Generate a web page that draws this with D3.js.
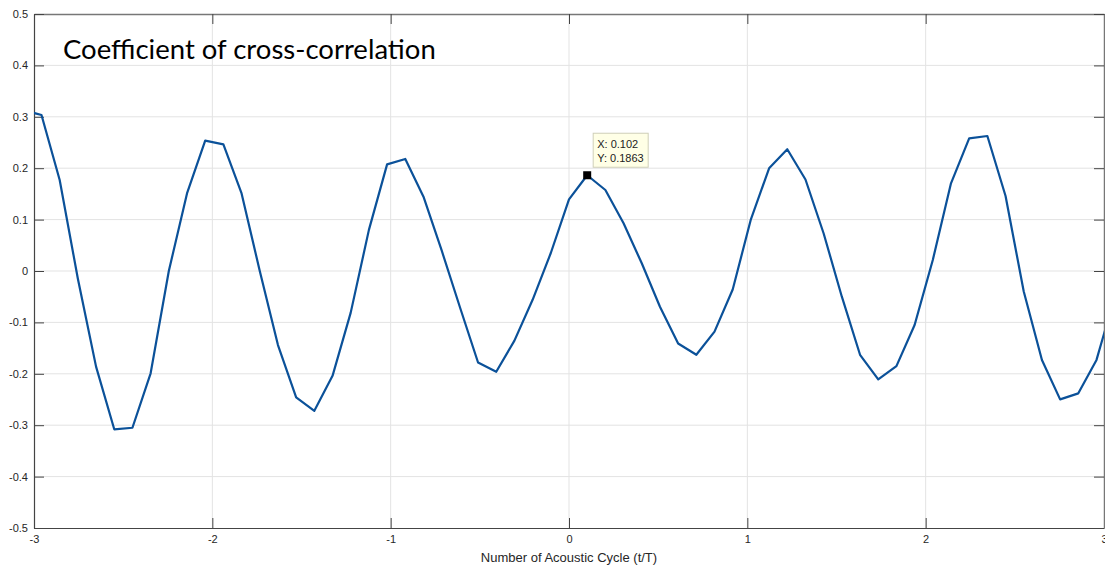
<!DOCTYPE html>
<html>
<head>
<meta charset="utf-8">
<script src="https://cdn.jsdelivr.net/npm/d3@7"></script>
<style>
  body { margin: 0; background: #fff; }
  svg { display: block; }
</style>
</head>
<body>
<div id="main"></div>
<script>
// sample positions (t/T), spacing 0.102
const xValues = [
  -3.06, -2.958, -2.856, -2.754, -2.652, -2.55, -2.448, -2.346, -2.244, -2.142,
  -2.04, -1.938, -1.836, -1.734, -1.632, -1.53, -1.428, -1.326, -1.224, -1.122,
  -1.02, -0.918, -0.816, -0.714, -0.612, -0.51, -0.408, -0.306, -0.204, -0.102,
  0, 0.102, 0.204, 0.306, 0.408, 0.51, 0.612, 0.714, 0.816, 0.918,
  1.02, 1.122, 1.224, 1.326, 1.428, 1.53, 1.632, 1.734, 1.836, 1.938,
  2.04, 2.142, 2.244, 2.346, 2.448, 2.55, 2.652, 2.754, 2.856, 2.958, 3.06
];
// cross-correlation coefficient
const corrValues = [
  0.313, 0.3035, 0.177, -0.015, -0.186, -0.308, -0.305, -0.199, 0.0, 0.151,
  0.2535, 0.2465, 0.151, 0.0, -0.144, -0.246, -0.272, -0.204, -0.081, 0.080,
  0.2075, 0.218, 0.1445, 0.04, -0.07, -0.178, -0.196, -0.1355, -0.056, 0.035,
  0.1395, 0.1863, 0.1576, 0.0928, 0.015, -0.0695, -0.141, -0.163, -0.118, -0.036,
  0.1006, 0.1998, 0.2368, 0.178, 0.073, -0.05, -0.163, -0.2107, -0.185, -0.105,
  0.0214, 0.1706, 0.258, 0.2626, 0.146, -0.04, -0.173, -0.2497, -0.238, -0.173, -0.05
];
const xTicks = [-3, -2, -1, 0, 1, 2, 3];
const yTicks = [-0.5, -0.4, -0.3, -0.2, -0.1, 0, 0.1, 0.2, 0.3, 0.4, 0.5];
const xTickLabels = ['-3', '-2', '-1', '0', '1', '2', '3'];
const yTickLabels = ['-0.5', '-0.4', '-0.3', '-0.2', '-0.1', '0', '0.1', '0.2', '0.3', '0.4', '0.5'];
const tipIndex = 31;

const W = 1105, H = 568;
const margin = { left: 34, right: 1, top: 14, bottom: 40 };
const iw = W - margin.left - margin.right,
      ih = H - margin.top - margin.bottom;

const svg = d3.select('#main').append('svg')
  .attr('width', W).attr('height', H);

const x = d3.scaleLinear().domain([-3, 3]).range([0, iw]);
const y = d3.scaleLinear().domain([-0.5, 0.5]).range([ih, 0]);

const g = svg.append('g').attr('transform', `translate(${margin.left},${margin.top})`);

svg.append('defs').append('clipPath').attr('id', 'plotClip')
  .append('rect').attr('width', iw).attr('height', ih);

// grid
g.append('g').selectAll('line.vg')
  .data(xTicks.slice(1, -1))
  .enter().append('line')
    .attr('x1', d => x(d)).attr('x2', d => x(d))
    .attr('y1', 0).attr('y2', ih)
    .attr('stroke', '#e3e3e3').attr('stroke-width', 1);
g.append('g').selectAll('line.hg')
  .data(yTicks.slice(1, -1))
  .enter().append('line')
    .attr('y1', d => y(d)).attr('y2', d => y(d))
    .attr('x1', 0).attr('x2', iw)
    .attr('stroke', '#e3e3e3').attr('stroke-width', 1);

// axes, ticks pointing inward
const axisFont = '"Liberation Sans", Arial, sans-serif';

const xAxis = g.append('g').attr('transform', `translate(0,${ih})`)
  .call(d3.axisBottom(x).tickValues(xTicks).tickSizeInner(-10).tickSizeOuter(0).tickPadding(7)
    .tickFormat((d, i) => xTickLabels[i]));
const xTop = g.append('g')
  .call(d3.axisTop(x).tickValues(xTicks).tickSizeInner(-10).tickSizeOuter(0).tickFormat(''));
const yAxis = g.append('g')
  .call(d3.axisLeft(y).tickValues(yTicks).tickSizeInner(-10).tickSizeOuter(0).tickPadding(6)
    .tickFormat((d, i) => yTickLabels[i]));
const yRight = g.append('g').attr('transform', `translate(${iw},0)`)
  .call(d3.axisRight(y).tickValues(yTicks).tickSizeInner(-10).tickSizeOuter(0).tickFormat(''));

[xAxis, xTop, yAxis, yRight].forEach(a => {
  a.select('.domain').attr('stroke', '#444').attr('stroke-width', 1.2);
  a.selectAll('.tick line').attr('stroke', '#444');
  a.selectAll('.tick text')
    .attr('fill', '#262626')
    .style('font-family', axisFont)
    .style('font-size', '11px');
});
xTop.select('.domain').attr('stroke', '#777').attr('stroke-width', 1.5);
yRight.select('.domain').attr('stroke', '#777').attr('stroke-width', 1.5);

// series line
const pts = xValues.map((d, i) => [d, corrValues[i]]);
g.append('path')
  .datum(pts)
  .attr('clip-path', 'url(#plotClip)')
  .attr('fill', 'none')
  .attr('stroke', '#0b5199')
  .attr('stroke-width', 2.2)
  .attr('stroke-linejoin', 'round')
  .attr('d', d3.line().x(d => x(d[0])).y(d => y(d[1])));

// data tip
const tx = x(xValues[tipIndex]), ty = y(corrValues[tipIndex]);
g.append('rect')
  .attr('x', tx - 4).attr('y', ty - 4)
  .attr('width', 8).attr('height', 8)
  .attr('fill', '#000');
const tip = g.append('g').attr('transform', `translate(${tx + 6},${ty - 42})`);
tip.append('rect')
  .attr('width', 55).attr('height', 34)
  .attr('fill', '#ffffe6').attr('stroke', '#cfcfb8').attr('stroke-width', 1);
tip.selectAll('text')
  .data(['X: ' + xValues[tipIndex], 'Y: ' + corrValues[tipIndex]])
  .enter().append('text')
    .attr('x', 4).attr('y', (d, i) => 15 + i * 14)
    .attr('fill', '#222')
    .style('font-family', axisFont)
    .style('font-size', '11px')
    .text(d => d);

// title inside plot
g.append('text')
  .attr('x', 29).attr('y', 45)
  .style('font-family', 'Lato, "Open Sans", sans-serif')
  .style('font-size', '27.5px')
  .attr('fill', '#000')
  .text('Coefficient of cross-correlation');

// x axis label
svg.append('text')
  .attr('x', margin.left + iw / 2).attr('y', 562)
  .attr('text-anchor', 'middle')
  .style('font-family', axisFont)
  .style('font-size', '13px')
  .attr('fill', '#262626')
  .text('Number of Acoustic Cycle (t/T)');
</script>
</body>
</html>
